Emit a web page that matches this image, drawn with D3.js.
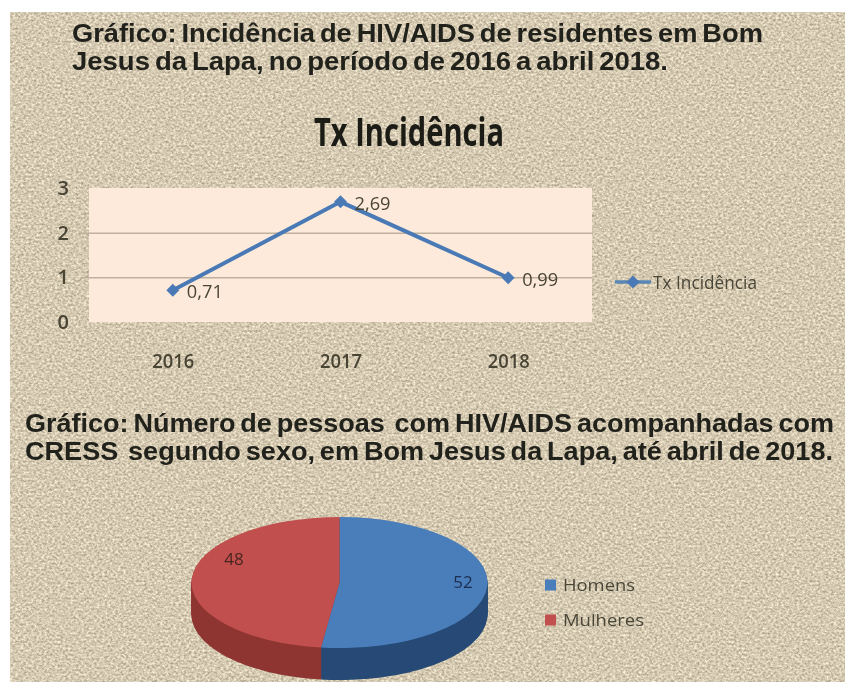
<!DOCTYPE html>
<html><head><meta charset="utf-8">
<script src="https://cdn.jsdelivr.net/npm/d3@7"></script>
<style>html,body{margin:0;padding:0;background:#fff;overflow:hidden}svg{display:block}</style>
</head><body><svg id="c" width="845" height="682"></svg>
<script>
const years = ["2016","2017","2018"];
const incidence = [0.71,2.69,0.99];
const incidenceLabels = ["0,71","2,69","0,99"];
const yTicks = [0,1,2,3];
const sexes = ["Homens","Mulheres"];
const people = [52,48];
const lineTitle = "Tx Incidência";
const headingTop = ["Gráfico: Incidência de HIV/AIDS de residentes em Bom","Jesus da Lapa, no período de 2016 a abril 2018."];
const headingBottom = ["Gráfico: Número de pessoas  com HIV/AIDS acompanhadas com","CRESS  segundo sexo, em Bom Jesus da Lapa, até abril de 2018."];

const svg = d3.select("#c");
const defs = svg.append("defs");
const tex = defs.append("filter").attr("id","sand").attr("x",0).attr("y",0).attr("width",1).attr("height",1).attr("color-interpolation-filters","sRGB");
tex.append("feTurbulence").attr("type","fractalNoise").attr("baseFrequency","0.38 0.46").attr("numOctaves",3).attr("seed",7).attr("result","n");
tex.append("feColorMatrix").attr("in","n").attr("type","matrix").attr("values","0.5 0 0 0 0.585  0.5 0 0 0 0.54  0.5 0 0 0 0.445  0 0 0 0 1").attr("result","g");
tex.append("feGaussianBlur").attr("in","g").attr("stdDeviation",0.7);
const soft = defs.append("filter").attr("id","soft").attr("x","-5%").attr("y","-5%").attr("width","110%").attr("height","110%");
soft.append("feGaussianBlur").attr("stdDeviation",0.6);

svg.append("rect").attr("x",10).attr("y",12).attr("width",835).attr("height",670).attr("fill","#d8ccb3").attr("filter","url(#sand)");

const head = svg.append("g").attr("filter","url(#soft)")
  .attr("font-family","'Liberation Sans',Arial,sans-serif").attr("font-weight","bold").attr("font-size",25.5).attr("word-spacing",-2.5).attr("fill","#23221c");
function heading(t,x,y,w){head.append("text").attr("x",x).attr("y",y).attr("textLength",w).attr("lengthAdjust","spacingAndGlyphs").style("white-space","pre").text(t);}
heading(headingTop[0],72,42,691);
heading(headingTop[1],72,70,596);
heading(headingBottom[0],25,432,809);
heading(headingBottom[1],25,460,808);

const narrow = "'Open Sans',sans-serif";
const main = svg.append("g").attr("filter","url(#soft)");
main.append("text").attr("x",409).attr("y",146).attr("text-anchor","middle").attr("font-family",narrow).attr("font-size",39).attr("font-weight","700")
  .attr("fill","#1d1b16").attr("textLength",190).attr("lengthAdjust","spacingAndGlyphs").text(lineTitle);

// line chart
const plot = {l:89,r:592,t:188,b:322};
const x = d3.scalePoint().domain(years).range([plot.l,plot.r]).padding(0.5);
const y = d3.scaleLinear().domain([0,3]).range([plot.b,plot.t]);
main.append("rect").attr("x",plot.l).attr("y",plot.t).attr("width",plot.r-plot.l).attr("height",plot.b-plot.t).attr("fill","#fdeadb");
const grid = main.append("g").attr("transform",`translate(${plot.l},0)`).call(d3.axisLeft(y).tickValues(yTicks.filter(v=>v>0&&v<3)).tickSize(-(plot.r-plot.l)).tickFormat(""));
grid.select(".domain").remove();
grid.selectAll("line").attr("x1",-8).attr("stroke","#bfb09c").attr("stroke-width",1.5);
const yAxis = main.append("g").attr("transform",`translate(${plot.l},0)`).call(d3.axisLeft(y).tickValues(yTicks).tickSize(0).tickPadding(20).tickFormat(d3.format("d")));
yAxis.select(".domain").remove();
yAxis.selectAll("text").attr("font-family",narrow).attr("font-size",20).attr("font-weight","600").attr("fill","#4a4435");
const xAxis = main.append("g").attr("transform",`translate(0,${plot.b})`).call(d3.axisBottom(x).tickSize(0).tickPadding(32));
xAxis.select(".domain").remove();
xAxis.selectAll("text").attr("font-family",narrow).attr("font-size",20).attr("font-weight","600").attr("fill","#4a4435")
  .attr("textLength",42).attr("lengthAdjust","spacingAndGlyphs");

const rows = years.map((k,i)=>({k,v:incidence[i],t:incidenceLabels[i]}));
main.append("path").datum(rows).attr("fill","none").attr("stroke","#4a7ab5").attr("stroke-width",4)
  .attr("d",d3.line().x(d=>x(d.k)).y(d=>y(d.v)));
const diamond = d3.symbol().type(d3.symbolSquare).size(84);
main.append("g").selectAll("path").data(rows).join("path").attr("d",diamond).attr("fill","#4a7ab5")
  .attr("transform",d=>`translate(${x(d.k)},${y(d.v)}) rotate(45)`);
main.append("g").selectAll("text").data(rows).join("text").text(d=>d.t)
  .attr("x",d=>x(d.k)+14).attr("y",d=>y(d.v)+8).attr("font-family",narrow).attr("font-size",19).attr("fill","#4a4435")
  .attr("textLength",36).attr("lengthAdjust","spacingAndGlyphs");

// line legend
const legLine = svg.append("g").attr("filter","url(#soft)");
const ly = 282, lx = d3.scaleLinear().domain([0,1]).range([615,651]);
legLine.append("line").attr("x1",lx(0)).attr("x2",lx(1)).attr("y1",ly).attr("y2",ly).attr("stroke","#5a87b5").attr("stroke-width",3.6);
legLine.append("path").attr("d",diamond).attr("fill","#4a7ab5").attr("transform",`translate(${lx(0.5)},${ly}) rotate(45)`);
legLine.append("text").attr("x",653).attr("y",ly+7).attr("font-family",narrow).attr("font-size",19).attr("fill","#4a4638")
  .attr("textLength",104).attr("lengthAdjust","spacingAndGlyphs").text(lineTitle);

// pie
const rx=148, ry=65.5, depth=32, cx=339.5, cy=582.5;
const pieFill=["#4a7ebb","#c0504d"];
const pie=d3.pie().sort(null)(people);
const arc=d3.arc().innerRadius(0).outerRadius(rx);
const gb=defs.append("linearGradient").attr("id","sb").attr("gradientUnits","userSpaceOnUse").attr("x1",cx-22).attr("x2",cx+rx).attr("y1",0).attr("y2",0);
[[0,"#254a74"],[0.3,"#1f3f66"],[1,"#152c4a"]].forEach(s=>gb.append("stop").attr("offset",s[0]).attr("stop-color",s[1]));
const gr=defs.append("linearGradient").attr("id","sr").attr("gradientUnits","userSpaceOnUse").attr("x1",cx-rx).attr("x2",cx-22).attr("y1",0).attr("y2",0);
[[0,"#8e3533"],[0.75,"#a03c3a"],[1,"#93403a"]].forEach(s=>gr.append("stop").attr("offset",s[0]).attr("stop-color",s[1]));
const pg=svg.append("g").attr("filter","url(#soft)");
d3.range(depth,0,-1).forEach(o=>{
  pg.append("g").attr("transform",`translate(${cx},${cy+o}) scale(1,${ry/rx})`)
    .selectAll("path").data(pie).join("path").attr("d",arc).attr("fill",(d,i)=>i===0?"url(#sb)":"url(#sr)");
});
pg.append("g").attr("transform",`translate(${cx},${cy}) scale(1,${ry/rx})`)
  .selectAll("path").data(pie).join("path").attr("d",arc).attr("fill",(d,i)=>pieFill[i]);
const pieLabelOffset=[[0.834,-0.01],[-0.713,-0.36]];
pg.append("g").selectAll("text").data(pie).join("text").text(d=>d.data)
  .attr("x",(d,i)=>cx+rx*pieLabelOffset[i][0])
  .attr("y",(d,i)=>cy+ry*pieLabelOffset[i][1]+6)
  .attr("text-anchor","middle").attr("font-family",narrow).attr("font-size",17).attr("fill",(d,i)=>i===0?"#1c2f4f":"#4a2420");

// pie legend
const lg=svg.append("g").attr("filter","url(#soft)");
const band=d3.scalePoint().domain(sexes).range([585,620]);
sexes.forEach((s,i)=>{
  lg.append("rect").attr("x",545).attr("y",band(s)-5.5).attr("width",11).attr("height",11).attr("fill",pieFill[i]);
  lg.append("text").attr("x",563).attr("y",band(s)+6).attr("font-family",narrow).attr("font-size",16).attr("fill","#4a4638")
    .attr("textLength",i===0?72:81).attr("lengthAdjust","spacingAndGlyphs").text(s);
});
</script></body></html>
